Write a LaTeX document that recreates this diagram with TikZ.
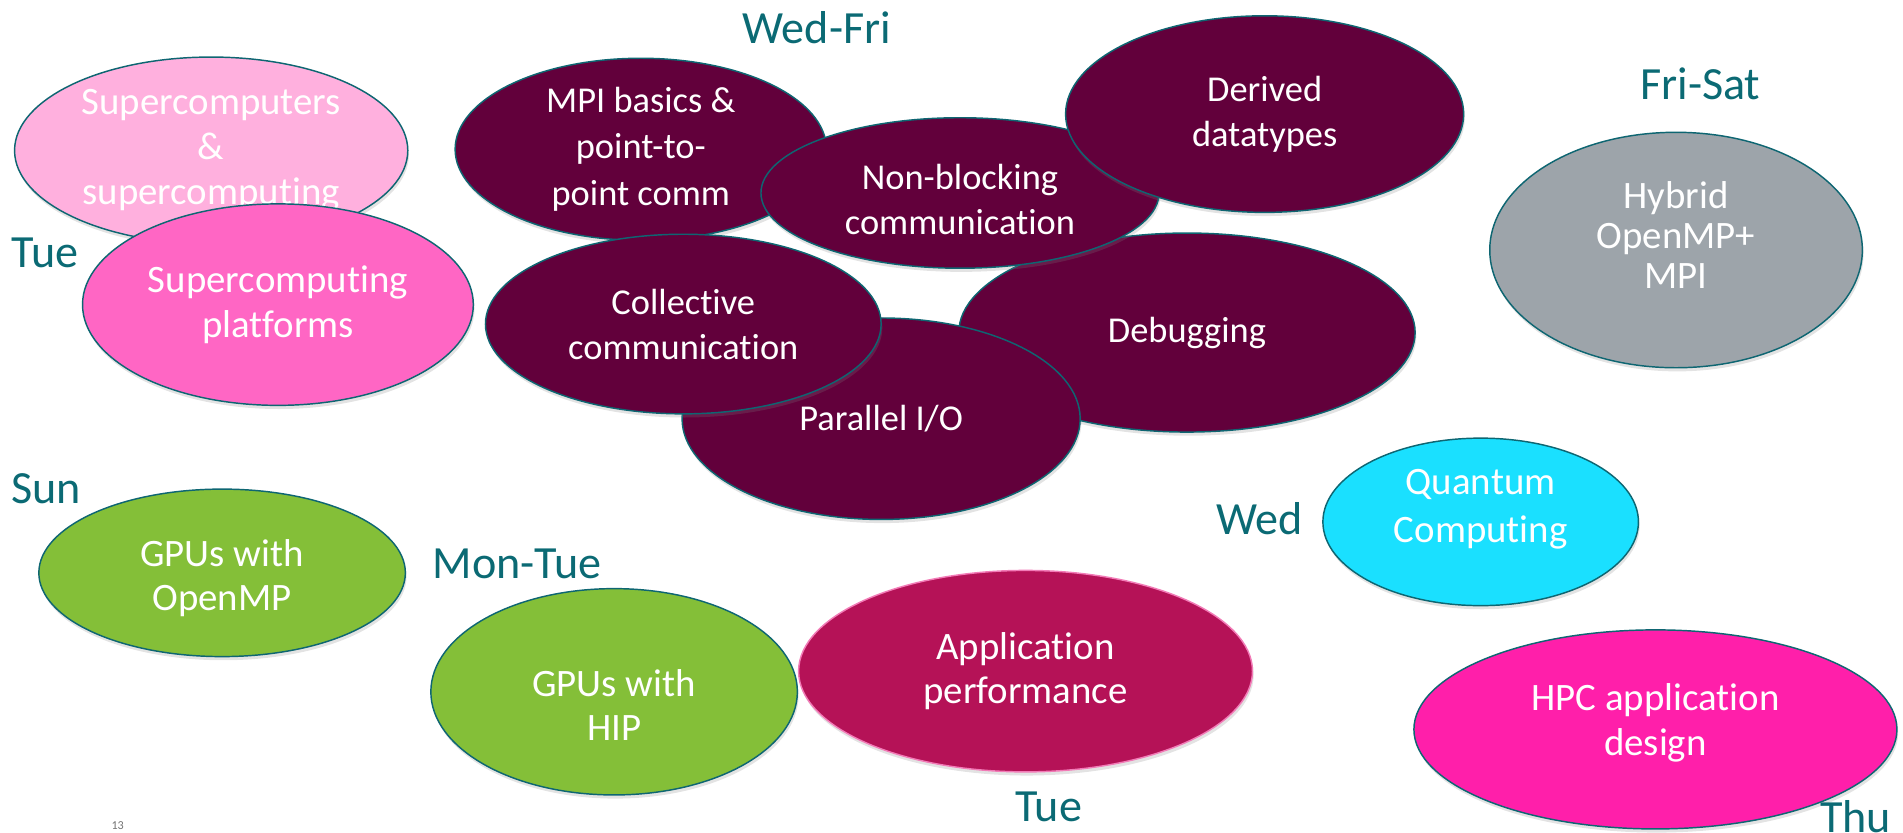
\documentclass[tikz,border=0pt]{standalone}
\usepackage{fontspec}
\setmainfont{Carlito}[Ligatures=CommonOff]
\usepackage{xcolor}
\usetikzlibrary{shapes, shadows}

\definecolor{dayteal}{HTML}{0B6A74}
\definecolor{edgeteal}{HTML}{0E6672}
\definecolor{lightpink}{HTML}{FFB0DE}
\definecolor{hotpink}{HTML}{FF66C4}
\definecolor{wine}{HTML}{62003B}
\definecolor{slate}{HTML}{9DA4AA}
\definecolor{lime}{HTML}{84BF38}
\definecolor{crimson}{HTML}{B51257}
\definecolor{aqua}{HTML}{1AE0FF}
\definecolor{magenta}{HTML}{FF1FAA}
\definecolor{softpink}{HTML}{F27BB7}

\tikzset{
  topic/.style={ellipse, draw=edgeteal, line width=1.2pt, text=white, align=center,
    inner sep=0pt, font=\fontsize{32}{37}\selectfont,
    drop shadow={shadow xshift=1pt, shadow yshift=-3pt, opacity=0.22}},
  mpitopic/.style={topic, fill=wine, font=\fontsize{30}{37}\selectfont},
  day/.style={text=dayteal, font=\fontsize{38}{44}\selectfont, inner sep=0pt, anchor=base}
}

\begin{document}
\begin{tikzpicture}[x=1pt, y=-1pt]
  \useasboundingbox (0,0) rectangle (1568,686);

  % Tue
  \node[topic, fill=lightpink, minimum width=324pt, minimum height=154pt] (supers) at (174,124) {Supercomputers\\\&\\supercomputing};
  \node[topic, fill=hotpink, minimum width=322pt, minimum height=166pt] (platforms) at (229,251) {Supercomputing\\platforms};

  % Wed-Fri
  \node[mpitopic, minimum width=376pt, minimum height=164pt] (debug) at (978,274) {Debugging};
  \node[mpitopic, minimum width=306pt, minimum height=150pt, font=\fontsize{30}{38}\selectfont] (basics) at (528,123) {MPI basics \&\\point-to-\\point comm};
  \node[mpitopic, minimum width=328pt, minimum height=124pt] (nonblock) at (791,159) {\rule{0pt}{31pt}Non-blocking\\communication};
  \node[mpitopic, minimum width=328pt, minimum height=162pt] (derived) at (1042,94) {Derived\\datatypes};
  \node[mpitopic, minimum width=328pt, minimum height=166pt] (pario) at (726,345) {Parallel I/O};
  \node[mpitopic, minimum width=326pt, minimum height=148pt] (collective) at (563,267) {Collective\\communication};

  % Fri-Sat
  \node[topic, fill=slate, minimum width=307pt, minimum height=194pt, font=\fontsize{32}{33}\selectfont] (hybrid) at (1381,206) {Hybrid\\OpenMP+\\MPI\rule[-24pt]{0pt}{24pt}};

  % GPUs
  \node[topic, fill=lime, minimum width=302pt, minimum height=138pt] (gpuomp) at (183,472) {\rule{0pt}{31pt}GPUs with\\OpenMP};
  \node[topic, fill=lime, minimum width=302pt, minimum height=170pt] (gpuhip) at (506,570) {\rule{0pt}{44pt}GPUs with\\HIP};

  \node[topic, fill=crimson, draw=softpink, minimum width=374pt, minimum height=166pt] (appperf) at (845,553) {Application\\performance};
  \node[topic, fill=aqua, minimum width=260pt, minimum height=138pt, font=\fontsize{32}{40}\selectfont] (quantum) at (1220,430) {Quantum\\Computing\rule[-26pt]{0pt}{26pt}};
  \node[topic, fill=magenta, minimum width=398pt, minimum height=164pt] (hpcdesign) at (1364,601) {HPC application\\design\rule[-17pt]{0pt}{17pt}};

  % days
  \node[day] (wedfri) at (673,36) {Wed-Fri};
  \node[day] (frisat) at (1401,82) {Fri-Sat};
  \node[day] (tue) at (37,220) {Tue};
  \node[day] (sun) at (38,415) {Sun};
  \node[day] (montue) at (426,477) {Mon-Tue};
  \node[day] (wed) at (1038,440) {Wed};
  \node[day] (tuelow) at (864,677) {Tue};
  \node[day] (thu) at (1529,686) {Thu};

  \node[text=black!55, font=\fontsize{10}{12}\selectfont, inner sep=0pt] (pagenum) at (97,680) {13};
\end{tikzpicture}
\end{document}
